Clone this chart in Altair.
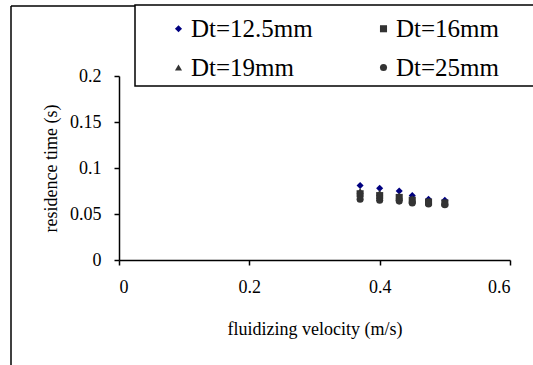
import altair as alt
import pandas as pd

# Fluidizing velocity (m/s) for each run
velocity = [0.37, 0.40, 0.43, 0.45, 0.475, 0.50]

# Residence time (s) per tube diameter
series_names = ["Dt=12.5mm", "Dt=16mm", "Dt=19mm", "Dt=25mm"]
rt_125 = [0.081, 0.078, 0.075, 0.070, 0.066, 0.065]
rt_16 = [0.072, 0.070, 0.068, 0.065, 0.063, 0.062]
rt_19 = [0.075, 0.073, 0.070, 0.067, 0.064, 0.063]
rt_25 = [0.066, 0.065, 0.064, 0.062, 0.061, 0.060]

x_ticks = [0, 0.2, 0.4, 0.6]
y_ticks = [0, 0.05, 0.1, 0.15, 0.2]

rows = []
for name, vals in zip(series_names, [rt_125, rt_16, rt_19, rt_25]):
    for v, t in zip(velocity, vals):
        rows.append({"velocity": v, "time": t, "series": name})
df = pd.DataFrame(rows)

SERIF = "Liberation Serif"
one = pd.DataFrame({"k": [0]})

# Outer chart frame (left and top edges)
frame_top = alt.Chart(one).mark_rule(color="black", strokeWidth=1.5).encode(
    x=alt.value(-108), x2=alt.value(440), y=alt.value(-70)
)
frame_left = alt.Chart(one).mark_rule(color="black", strokeWidth=1.5).encode(
    x=alt.value(-108), y=alt.value(-70), y2=alt.value(300)
)

# Box behind the legend
legend_box = alt.Chart(one).mark_rect(
    fill="white", stroke="black", strokeWidth=1.5
).encode(
    x=alt.value(16), x2=alt.value(440), y=alt.value(-71), y2=alt.value(10)
)

legend_style = dict(
    title=None, orient="none", legendX=47, legendY=-60, columns=2,
    direction="horizontal", columnPadding=58, rowPadding=13, labelOffset=0,
    padding=0, labelFont=SERIF, labelFontSize=25, labelColor="black",
    symbolSize=50, symbolStrokeWidth=0,
)

points = alt.Chart(df).mark_point(filled=True, opacity=1, size=50).encode(
    x=alt.X(
        "velocity:Q",
        scale=alt.Scale(domain=[0, 0.6], nice=False),
        axis=alt.Axis(values=x_ticks, format="~g",
                      title="fluidizing velocity (m/s)",
                      labelPadding=13, titlePadding=24),
    ),
    y=alt.Y(
        "time:Q",
        scale=alt.Scale(domain=[0, 0.2], nice=False),
        axis=alt.Axis(values=y_ticks, format="~g",
                      title="residence time (s)",
                      labelPadding=13, titlePadding=9),
    ),
    shape=alt.Shape(
        "series:N",
        scale=alt.Scale(domain=series_names,
                        range=["diamond", "square", "triangle-up", "circle"]),
        legend=alt.Legend(**legend_style),
    ),
    color=alt.Color(
        "series:N",
        scale=alt.Scale(domain=series_names,
                        range=["#000080", "#333333", "#333333", "#333333"]),
        legend=alt.Legend(**legend_style),
    ),
)

chart = alt.layer(frame_top, frame_left, legend_box, points).properties(
    width=391,
    height=184,
    padding={"left": 119, "top": 76, "right": 23, "bottom": 105},
    autosize=alt.AutoSizeParams(type="none"),
    background="white",
).configure_view(stroke=None).configure_axis(
    domainColor="black", domainWidth=1.5, tickColor="black", tickWidth=1.5,
    tickSize=5, grid=False, labelFont=SERIF, labelFontSize=18,
    labelColor="black", titleFont=SERIF, titleFontSize=18,
    titleFontWeight="normal", titleColor="black",
)

chart.save("out.html", embed_options={"renderer": "svg", "actions": False})
